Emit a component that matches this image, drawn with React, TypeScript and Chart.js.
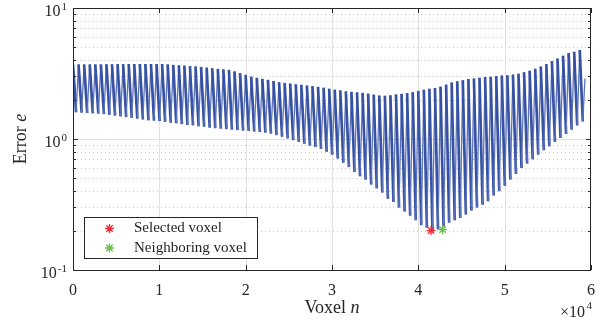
import React, { useEffect, useRef } from 'react';
import { Chart, registerables } from 'chart.js';

Chart.register(...registerables);

// ---------- data ----------
const voxelsPerPeriod = 645;
const peakTops = [
  3.71, 3.71, 3.71, 3.71, 3.71, 3.71, 3.72, 3.72, 3.73, 3.73,
  3.74, 3.74, 3.74, 3.74, 3.74, 3.74, 3.74, 3.71, 3.68, 3.65,
  3.63, 3.6, 3.58, 3.55, 3.51, 3.47, 3.43, 3.4, 3.37, 3.28,
  3.19, 3.09, 2.99, 2.93, 2.88, 2.83, 2.77, 2.72, 2.68, 2.65,
  2.62, 2.59, 2.56, 2.53, 2.5, 2.46, 2.42, 2.38, 2.35, 2.31,
  2.29, 2.27, 2.25, 2.22, 2.18, 2.15, 2.14, 2.16, 2.19, 2.21,
  2.24, 2.28, 2.33, 2.38, 2.42, 2.45, 2.51, 2.6, 2.7, 2.76,
  2.81, 2.87, 2.9, 2.93, 2.97, 2.99, 3.02, 3.05, 3.07, 3.1,
  3.15, 3.23, 3.32, 3.44, 3.58, 3.73, 3.93, 4.12, 4.32, 4.52,
  4.64, 4.78,
];
const troughBottoms = [
  1.6, 1.59, 1.58, 1.57, 1.56, 1.55, 1.53, 1.51, 1.49, 1.47,
  1.45, 1.43, 1.41, 1.39, 1.38, 1.37, 1.35, 1.33, 1.32, 1.3,
  1.28, 1.27, 1.25, 1.24, 1.22, 1.21, 1.2, 1.19, 1.18, 1.17,
  1.16, 1.15, 1.14, 1.13, 1.12, 1.1, 1.07, 1.04, 1.01, 0.98,
  0.95, 0.92, 0.89, 0.87, 0.84, 0.8, 0.76, 0.71, 0.66, 0.61,
  0.56, 0.52, 0.49, 0.45, 0.42, 0.39, 0.35, 0.33, 0.3, 0.28,
  0.26, 0.24, 0.22, 0.21, 0.2, 0.205, 0.215, 0.23, 0.24, 0.25,
  0.265, 0.285, 0.3, 0.315, 0.335, 0.37, 0.4, 0.44, 0.49, 0.54,
  0.6, 0.65, 0.7, 0.76, 0.82, 0.88, 0.95, 1.02, 1.09, 1.18,
  1.27, 1.36,
];
const lastVoxel = 59300;
const lastError = 2.9;

const selectedVoxel = [41470];
const selectedError = [0.2];
const neighborVoxel = [42810];
const neighborError = [0.203];

const xTickValues = [0, 10000, 20000, 30000, 40000, 50000, 60000];
const xTickLabels = ['0', '1', '2', '3', '4', '5', '6'];
const yMajorValues = [0.1, 1, 10];
const yMajorExponents = ['-1', '0', '1'];
const yMinorValues = [0.2, 0.3, 0.4, 0.5, 0.6, 0.7, 0.8, 0.9, 2, 3, 4, 5, 6, 7, 8, 9];
const legendLabels = ['Selected voxel', 'Neighboring voxel'];

// ---------- styles ----------
const FONT = '"Liberation Serif", "Times New Roman", serif';
const BLUE = '#3752a4';
const BLUE_LIGHT = '#5d74b8';
const RED = '#ee2a35';
const GREEN = '#69bb45';
const AXIS = '#262626';
const MAJOR_GRID = '#e1e1e1';
const MINOR_GRID = '#c4c4c4';

const axesPlugin = {
  id: 'matlabAxes',
  beforeDatasetsDraw(chart: any) {
    const { ctx, chartArea, scales } = chart;
    const { left, right, top, bottom } = chartArea;
    const x = scales.x;
    const y = scales.y;
    ctx.save();
    ctx.lineWidth = 1;
    ctx.strokeStyle = MINOR_GRID;
    ctx.setLineDash([1, 3]);
    for (const v of yMinorValues) {
      const py = Math.round(y.getPixelForValue(v)) + 0.5;
      ctx.beginPath();
      ctx.moveTo(left, py);
      ctx.lineTo(right, py);
      ctx.stroke();
    }
    ctx.setLineDash([]);
    ctx.strokeStyle = MAJOR_GRID;
    for (const v of yMajorValues) {
      const py = Math.round(y.getPixelForValue(v)) + 0.5;
      if (py <= top + 1 || py >= bottom - 1) continue;
      ctx.beginPath();
      ctx.moveTo(left, py);
      ctx.lineTo(right, py);
      ctx.stroke();
    }
    for (const v of xTickValues) {
      const px = Math.round(x.getPixelForValue(v)) + 0.5;
      if (px <= left + 1 || px >= right - 1) continue;
      ctx.beginPath();
      ctx.moveTo(px, top);
      ctx.lineTo(px, bottom);
      ctx.stroke();
    }
    ctx.restore();
  },
  afterDraw(chart: any) {
    const { ctx, chartArea, scales } = chart;
    const { left, right, top, bottom } = chartArea;
    const x = scales.x;
    const y = scales.y;
    ctx.save();
    ctx.strokeStyle = AXIS;
    ctx.lineWidth = 1;
    ctx.strokeRect(left + 0.5, top + 0.5, right - left - 1, bottom - top);
    ctx.beginPath();
    for (const v of xTickValues) {
      const px = Math.round(x.getPixelForValue(v)) + 0.5;
      ctx.moveTo(px, bottom);
      ctx.lineTo(px, bottom - 5);
      ctx.moveTo(px, top);
      ctx.lineTo(px, top + 5);
    }
    for (const v of yMajorValues) {
      const py = Math.round(y.getPixelForValue(v)) + 0.5;
      ctx.moveTo(left, py);
      ctx.lineTo(left + 5, py);
      ctx.moveTo(right, py);
      ctx.lineTo(right - 5, py);
    }
    for (const v of yMinorValues) {
      const py = Math.round(y.getPixelForValue(v)) + 0.5;
      ctx.moveTo(left, py);
      ctx.lineTo(left + 3, py);
      ctx.moveTo(right, py);
      ctx.lineTo(right - 3, py);
    }
    ctx.stroke();

    ctx.fillStyle = AXIS;
    ctx.textBaseline = 'alphabetic';
    yMajorValues.forEach((v, i) => {
      const py = y.getPixelForValue(v);
      ctx.font = `11px ${FONT}`;
      ctx.textAlign = 'right';
      ctx.fillText(yMajorExponents[i], 67, py + 2);
      const expW = ctx.measureText(yMajorExponents[i]).width;
      ctx.font = `16px ${FONT}`;
      ctx.fillText('10', 67 - expW - 1, py + 8);
    });

    ctx.textAlign = 'right';
    ctx.font = `11px ${FONT}`;
    ctx.fillText('4', 592, 309);
    ctx.font = `16px ${FONT}`;
    ctx.fillText('\u00d710', 585, 317);

    const cx = (left + right) / 2;
    ctx.font = `18px ${FONT}`;
    const w1 = ctx.measureText('Voxel ').width;
    ctx.font = `italic 18px ${FONT}`;
    const w2 = ctx.measureText('n').width;
    ctx.textAlign = 'left';
    ctx.font = `18px ${FONT}`;
    ctx.fillText('Voxel ', cx - (w1 + w2) / 2, 313);
    ctx.font = `italic 18px ${FONT}`;
    ctx.fillText('n', cx - (w1 + w2) / 2 + w1, 313);

    ctx.save();
    ctx.translate(26, (top + bottom) / 2);
    ctx.rotate(-Math.PI / 2);
    ctx.font = `18px ${FONT}`;
    const e1 = ctx.measureText('Error ').width;
    ctx.font = `italic 18px ${FONT}`;
    const e2 = ctx.measureText('e').width;
    ctx.font = `18px ${FONT}`;
    ctx.fillText('Error ', -(e1 + e2) / 2, 0);
    ctx.font = `italic 18px ${FONT}`;
    ctx.fillText('e', -(e1 + e2) / 2 + e1, 0);
    ctx.restore();

    const bx = 84.5, by = 217.5, bw = 173, bh = 41;
    ctx.fillStyle = '#ffffff';
    ctx.fillRect(bx, by, bw, bh);
    ctx.strokeStyle = AXIS;
    ctx.lineWidth = 1;
    ctx.strokeRect(bx, by, bw, bh);
    const colors = [RED, GREEN];
    legendLabels.forEach((label, i) => {
      const ly = 228.5 + i * 19.5;
      const sx = 109.5;
      const r = 4.5;
      ctx.strokeStyle = colors[i];
      ctx.lineWidth = 1.3;
      ctx.beginPath();
      for (let a = 0; a < 4; a++) {
        const ang = (a * Math.PI) / 4;
        ctx.moveTo(sx - r * Math.cos(ang), ly - r * Math.sin(ang));
        ctx.lineTo(sx + r * Math.cos(ang), ly + r * Math.sin(ang));
      }
      ctx.stroke();
      ctx.fillStyle = AXIS;
      ctx.font = `15px ${FONT}`;
      ctx.textAlign = 'left';
      ctx.textBaseline = 'middle';
      ctx.fillText(label, 134, ly);
    });
    ctx.restore();
  },
};

export default function App() {
  const canvasRef = useRef<HTMLCanvasElement>(null);

  useEffect(() => {
    document.body.style.margin = '0';
    const canvas = canvasRef.current;
    if (!canvas) return;

    const lineData: { x: number; y: number }[] = [];
    for (let k = 0; k < peakTops.length; k++) {
      lineData.push({ x: k * voxelsPerPeriod, y: peakTops[k] });
      lineData.push({ x: k * voxelsPerPeriod + 0.55 * voxelsPerPeriod, y: troughBottoms[k] });
    }
    lineData.push({ x: lastVoxel, y: lastError });

    const falling = (c: any) => c.p0.parsed.y > c.p1.parsed.y;

    const chart = new Chart(canvas, {
      type: 'line',
      data: {
        datasets: [
          {
            label: legendLabels[0],
            data: selectedVoxel.map((n, i) => ({ x: n, y: selectedError[i] })),
            showLine: false,
            pointStyle: 'star',
            pointRadius: 4.5,
            borderWidth: 1.3,
            borderColor: RED,
            backgroundColor: RED,
            order: 0,
          },
          {
            label: legendLabels[1],
            data: neighborVoxel.map((n, i) => ({ x: n, y: neighborError[i] })),
            showLine: false,
            pointStyle: 'star',
            pointRadius: 4.5,
            borderWidth: 1.3,
            borderColor: GREEN,
            backgroundColor: GREEN,
            order: 1,
          },
          {
            label: 'error',
            data: lineData,
            borderColor: BLUE,
            borderWidth: 2.4,
            pointRadius: 0,
            tension: 0,
            fill: false,
            order: 2,
            segment: {
              borderWidth: (c: any) => (falling(c) ? 2.7 : 1.3),
              borderColor: (c: any) => (falling(c) ? BLUE : BLUE_LIGHT),
            },
          },
        ],
      } as any,
      options: {
        animation: false,
        responsive: false,
        events: [],
        layout: { padding: { top: 8, right: 20, left: 0, bottom: 0 } },
        plugins: { legend: { display: false }, tooltip: { enabled: false } },
        scales: {
          x: {
            type: 'linear',
            min: 0,
            max: 60000,
            afterBuildTicks: (s: any) => {
              s.ticks = xTickValues.map((v) => ({ value: v }));
            },
            afterFit: (s: any) => {
              s.height = 56;
            },
            grid: { display: false },
            border: { display: false },
            ticks: {
              font: { family: FONT, size: 16 },
              color: AXIS,
              padding: 3,
              maxRotation: 0,
              autoSkip: false,
              callback: (v: any) => xTickLabels[xTickValues.indexOf(Number(v))] ?? '',
            },
          },
          y: {
            type: 'logarithmic',
            min: 0.1,
            max: 10,
            afterFit: (s: any) => {
              s.width = 73;
            },
            grid: { display: false },
            border: { display: false },
            ticks: { display: false },
          },
        },
      } as any,
      plugins: [axesPlugin],
    });

    return () => chart.destroy();
  }, []);

  return <canvas ref={canvasRef} width={611} height={326} style={{ display: 'block' }} />;
}
